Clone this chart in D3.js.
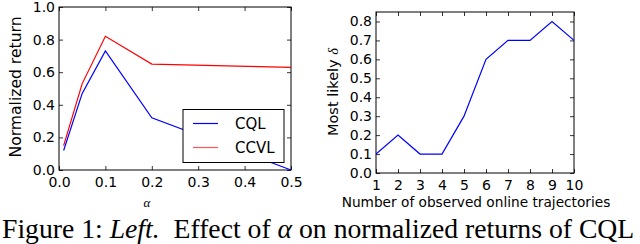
<!DOCTYPE html>
<meta charset="utf-8">
<style>
body { margin: 0; background: #fff; }
svg { display: block; }
.tick text { font-family: "DejaVu Sans", sans-serif; font-size: 14px; fill: #000; }
.lab { font-family: "DejaVu Sans", sans-serif; font-size: 14px; fill: #000; }
</style>
<svg width="640" height="244"></svg>
<script src="https://cdn.jsdelivr.net/npm/d3@7"></script>
<script>
// left panel: effect of alpha
var alphas = [0.01, 0.05, 0.1, 0.2, 0.5];
var cql = [0.12, 0.47, 0.73, 0.32, 0.0];
var ccvl = [0.15, 0.53, 0.82, 0.65, 0.63];
var leftXTicks = [0, 0.1, 0.2, 0.3, 0.4, 0.5];
var leftYTicks = [0, 0.2, 0.4, 0.6, 0.8, 1.0];

// right panel: most likely delta
var trajectories = [1, 2, 3, 4, 5, 6, 7, 8, 9, 10];
var delta = [0.1, 0.2, 0.1, 0.1, 0.3, 0.6, 0.7, 0.7, 0.8, 0.7];
var rightYTicks = [0, 0.1, 0.2, 0.3, 0.4, 0.5, 0.6, 0.7, 0.8];

var svg = d3.select("svg");

function panel(x0, x1, y0, y1, xs, ys, xt, yt, xfmt, yfmt) {
  var g = svg.append("g");
  var x = d3.scaleLinear().domain(xs).range([x0, x1]);
  var y = d3.scaleLinear().domain(ys).range([y1, y0]);
  var tk = 4;
  g.append("g").attr("transform", "translate(0," + y1 + ")")
    .call(d3.axisBottom(x).tickValues(xt).tickFormat(xfmt).tickSizeInner(-tk).tickSizeOuter(0).tickPadding(7));
  g.append("g").attr("transform", "translate(0," + y0 + ")")
    .call(d3.axisTop(x).tickValues(xt).tickFormat("").tickSizeInner(-tk).tickSizeOuter(0));
  g.append("g").attr("transform", "translate(" + x0 + ",0)")
    .call(d3.axisLeft(y).tickValues(yt).tickFormat(yfmt).tickSizeInner(-tk).tickSizeOuter(0).tickPadding(4));
  g.append("g").attr("transform", "translate(" + x1 + ",0)")
    .call(d3.axisRight(y).tickValues(yt).tickFormat("").tickSizeInner(-tk).tickSizeOuter(0));
  g.selectAll(".domain").remove();
  g.selectAll(".tick line").attr("stroke", "#000").attr("stroke-width", 0.8);
  g.append("rect").attr("x", x0).attr("y", y0).attr("width", x1 - x0).attr("height", y1 - y0)
    .attr("fill", "none").attr("stroke", "#000").attr("stroke-width", 1);
  var clip = "clip" + x0;
  svg.append("clipPath").attr("id", clip).append("rect")
    .attr("x", x0).attr("y", y0 - 1).attr("width", x1 - x0 + 1).attr("height", y1 - y0 + 2);
  return {g: g, x: x, y: y, clip: clip};
}

var f1 = d3.format(".1f");

// left
var L = panel(59, 291, 7, 170, [0, 0.5], [0, 1], leftXTicks, leftYTicks, f1, f1);
var lineL = d3.line().x(function(d) { return L.x(d[0]); }).y(function(d) { return L.y(d[1]); });
L.g.append("path").datum(d3.zip(alphas, ccvl)).attr("d", lineL)
  .attr("fill", "none").attr("stroke", "#ff0000").attr("stroke-width", 1.2).attr("clip-path", "url(#" + L.clip + ")");
L.g.append("path").datum(d3.zip(alphas, cql)).attr("d", lineL)
  .attr("fill", "none").attr("stroke", "#0000ff").attr("stroke-width", 1.2).attr("clip-path", "url(#" + L.clip + ")");

// legend
var leg = L.g.append("g");
leg.append("rect").attr("x", 183).attr("y", 109.5).attr("width", 101).attr("height", 53)
  .attr("fill", "#fff").attr("stroke", "#000").attr("stroke-width", 1);
var legItems = [["CQL", "#0000ff", 123.5], ["CCVL", "#ff5555", 147.5]];
legItems.forEach(function(d) {
  leg.append("line").attr("x1", 193).attr("x2", 218).attr("y1", d[2]).attr("y2", d[2])
    .attr("stroke", d[1]).attr("stroke-width", 1.2);
  leg.append("text").attr("class", "lab").attr("x", 235).attr("y", d[2] + 5.5)
    .style("font-size", "15px").text(d[0]);
});

svg.append("text").attr("class", "lab")
  .attr("transform", "translate(21,87) rotate(-90)").attr("text-anchor", "middle")
  .style("font-size", "15.6px").text("Normalized return");
svg.append("text").attr("x", 147).attr("y", 207).attr("text-anchor", "middle")
  .style("font-family", "'Liberation Serif', serif").style("font-style", "italic").style("font-size", "13px")
  .text("α");

// right
var R = panel(376, 574, 12, 173, [1, 10], [0, 0.85], trajectories, rightYTicks, d3.format("d"), f1);
var lineR = d3.line().x(function(d) { return R.x(d[0]); }).y(function(d) { return R.y(d[1]); });
R.g.append("path").datum(d3.zip(trajectories, delta)).attr("d", lineR)
  .attr("fill", "none").attr("stroke", "#0000ff").attr("stroke-width", 1.2).attr("clip-path", "url(#" + R.clip + ")");

var yl = svg.append("text").attr("class", "lab")
  .attr("transform", "translate(338,92) rotate(-90)").attr("text-anchor", "middle")
  .style("font-size", "14.5px");
yl.append("tspan").text("Most likely ");
yl.append("tspan").style("font-family", "'Liberation Serif', serif").style("font-style", "italic").text("δ");
svg.append("text").attr("class", "lab").attr("x", 476).attr("y", 207).attr("text-anchor", "middle")
  .style("font-size", "13.7px").text("Number of observed online trajectories");

// caption
var cap = svg.append("text").attr("x", 2).attr("y", 238).attr("xml:space", "preserve")
  .style("white-space", "pre")
  .style("font-family", "'Liberation Serif', 'Times New Roman', serif").style("font-size", "27.7px");
cap.append("tspan").text("Figure 1: ");
cap.append("tspan").style("font-style", "italic").text("Left.");
cap.append("tspan").text("  Effect of ");
cap.append("tspan").style("font-style", "italic").text("α");
cap.append("tspan").text(" on normalized returns of CQL");
</script>
